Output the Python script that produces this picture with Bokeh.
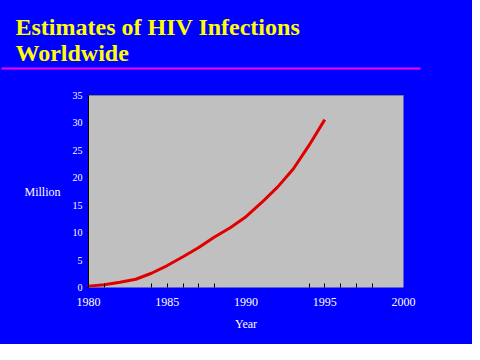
from bokeh.plotting import figure
from bokeh.models import Label, LinearAxis, FixedTicker, Range1d, BoxAnnotation
from bokeh.layouts import column
from bokeh.embed import file_html
from bokeh.resources import INLINE

# Data
years = [1980, 1981, 1982, 1983, 1984, 1985, 1986, 1987, 1988, 1989,
         1990, 1991, 1992, 1993, 1994, 1995]
infections = [0.25, 0.5, 0.95, 1.5, 2.6, 4.0, 5.6, 7.3, 9.2, 10.9,
              12.9, 15.5, 18.3, 21.6, 25.9, 30.6]
x_major_ticks = [1980, 1985, 1990, 1995, 2000]
x_minor_ticks = [1981, 1984, 1985, 1986, 1987, 1988, 1994, 1995, 1996, 1997, 1998]
y_ticks = [0, 5, 10, 15, 20, 25, 30, 35]
title_lines = ["Estimates of HIV Infections", "Worldwide"]

SERIF = "Liberation Serif"
BLUE = "#0000FF"
W = 472
TOP_H = 88

# ---- header figure (title + magenta rule) ----
head = figure(width=W, height=TOP_H, output_backend="svg", toolbar_location=None,
              x_range=Range1d(0, 1), y_range=Range1d(0, 1),
              x_axis_location=None, y_axis_location=None,
              min_border=0, min_border_left=0, min_border_right=0,
              min_border_top=0, min_border_bottom=0)
head.frame_align = False
head.background_fill_color = BLUE
head.border_fill_color = BLUE
head.outline_line_color = None
head.xgrid.visible = False
head.ygrid.visible = False
for txt, base in zip(title_lines, [26.5, 52.5]):
    head.add_layout(Label(x=15, y=base, x_units="canvas", y_units="canvas",
                          text=txt, text_color="#FFFF00", text_font=SERIF,
                          text_font_style="bold", text_font_size="24px",
                          text_baseline="alphabetic", text_align="left"))
head.add_layout(BoxAnnotation(left=1, right=420, top=67, bottom=69,
                              left_units="canvas", right_units="canvas",
                              bottom_units="canvas", top_units="canvas",
                              fill_color="#FF00FF", fill_alpha=1, line_color=None))

# ---- main chart ----
p = figure(width=W, height=344 - TOP_H, output_backend="svg", toolbar_location=None,
           x_range=Range1d(1980, 2000), y_range=Range1d(0, 35),
           x_axis_location=None, y_axis_location=None,
           min_border_left=88, min_border_right=W - 403,
           min_border_top=95 - TOP_H, min_border_bottom=344 - TOP_H - (95 - TOP_H) - 192)
p.frame_align = False
p.background_fill_color = "#C0C0C0"
p.border_fill_color = BLUE
p.outline_line_color = None
p.xgrid.visible = False
p.ygrid.visible = False

# bottom axis
xa = LinearAxis(ticker=FixedTicker(ticks=x_major_ticks, minor_ticks=x_minor_ticks),
                axis_label="Year")
xa.axis_line_color = None
xa.major_tick_line_color = None
xa.minor_tick_line_color = "black"
xa.minor_tick_in = 4
xa.minor_tick_out = 0
xa.major_tick_in = 0
xa.major_tick_out = 0
xa.major_label_text_color = "white"
xa.major_label_text_font = SERIF
xa.major_label_text_font_size = "12px"
xa.major_label_standoff = 10
xa.axis_label_text_color = "white"
xa.axis_label_text_font = SERIF
xa.axis_label_text_font_size = "12px"
xa.axis_label_text_font_style = "normal"
xa.axis_label_standoff = 8
p.add_layout(xa, "below")

# left axis
ya = LinearAxis(ticker=FixedTicker(ticks=y_ticks, minor_ticks=[]),
                axis_label="Million", axis_label_orientation="horizontal")
ya.axis_line_color = "black"
ya.axis_line_width = 1
ya.major_tick_line_color = "black"
ya.major_tick_in = 0
ya.major_tick_out = 2
ya.minor_tick_line_color = None
ya.major_label_text_color = "white"
ya.major_label_text_font = SERIF
ya.major_label_text_font_size = "10px"
ya.major_label_standoff = 4
ya.axis_label_text_color = "white"
ya.axis_label_text_font = SERIF
ya.axis_label_text_font_size = "12px"
ya.axis_label_text_font_style = "normal"
ya.axis_label_standoff = 9
p.add_layout(ya, "left")

# top border
ta = LinearAxis(ticker=FixedTicker(ticks=[]))
ta.axis_line_color = "#808080"
ta.major_tick_line_color = None
ta.minor_tick_line_color = None
ta.major_label_text_font_size = "0px"
p.add_layout(ta, "above")

p.line(years, infections, line_color="#E00000", line_width=3)

layout = column(head, p, spacing=0)
layout.background = BLUE
open("out.html", "w").write(file_html(layout, INLINE))
